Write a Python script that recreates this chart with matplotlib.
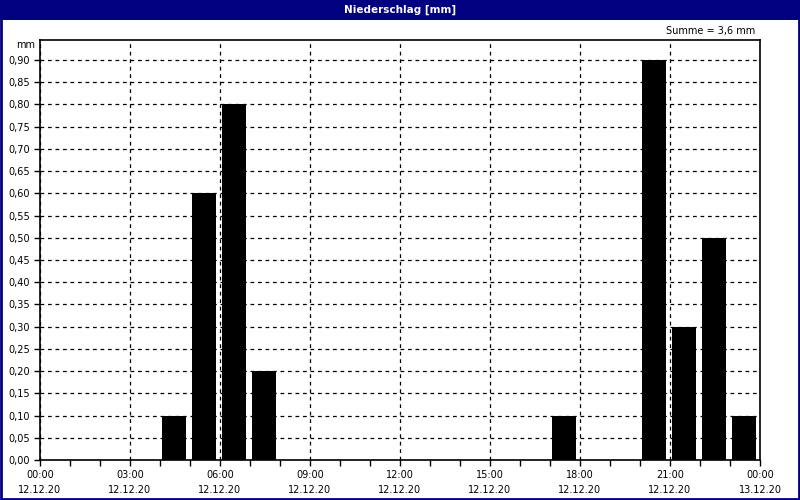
import matplotlib
matplotlib.use('Agg')
import matplotlib.pyplot as plt
import matplotlib.ticker as mtick
from matplotlib.patches import Rectangle

# hourly precipitation, 12.12.20 00:00 .. 13.12.20 00:00
hours = [4, 5, 6, 7, 17, 20, 21, 22, 23]
rain = [0.10, 0.60, 0.80, 0.20, 0.10, 0.90, 0.30, 0.50, 0.10]
tick_hours = [0, 3, 6, 9, 12, 15, 18, 21, 24]
tick_labels = ['00:00\n12.12.20', '03:00\n12.12.20', '06:00\n12.12.20', '09:00\n12.12.20',
               '12:00\n12.12.20', '15:00\n12.12.20', '18:00\n12.12.20', '21:00\n12.12.20',
               '00:00\n13.12.20']
title = 'Niederschlag [mm]'
navy = '#000080'

plt.rcParams['font.family'] = 'DejaVu Sans'
plt.rcParams['font.size'] = 7

fig = plt.figure(figsize=(8, 5), dpi=100)
fig.patch.set_facecolor('white')
W, H = 800.0, 500.0
ax = fig.add_axes([40 / W, 1 - 460 / H, 720 / W, 420 / H])

ax.bar([h + 0.067 for h in hours], rain, width=0.8, align='edge', color='black', zorder=3)

ax.set_xlim(0, 24)
ax.set_ylim(0, 0.945)
ax.set_xticks(tick_hours)
ax.set_xticklabels(tick_labels, linespacing=1.6)
ax.xaxis.set_minor_locator(mtick.MultipleLocator(1))
ax.set_yticks([i * 0.05 for i in range(19)])
ax.yaxis.set_major_formatter(mtick.FuncFormatter(lambda v, p: ('%.2f' % v).replace('.', ',')))
ax.tick_params(axis='both', which='both', direction='out', color='black', length=4, width=1)
ax.tick_params(axis='x', which='major', pad=3)
ax.tick_params(axis='y', pad=3)

ax.grid(True, which='major', color='black', linestyle=(0, (3, 3)), linewidth=0.9, zorder=1)
for s in ax.spines.values():
    s.set_color('black')
    s.set_linewidth(1.2)

# title bar and frame
fig.patches.append(Rectangle((0, 1 - 20 / H), 1, 20 / H, transform=fig.transFigure,
                             facecolor=navy, edgecolor='none', zorder=0))
fig.patches.append(Rectangle((0.001, 0.002), 0.998, 0.996, transform=fig.transFigure,
                             facecolor='none', edgecolor=navy, linewidth=2, zorder=5))
fig.text(0.5, 1 - 10 / H, title, color='white', fontweight='bold', ha='center', va='center', fontsize=7.5)
fig.text(755 / W, 1 - 31 / H, 'Summe = 3,6 mm', ha='right', va='center')
fig.text(35 / W, 1 - 45 / H, 'mm', ha='right', va='center')

plt.savefig('out.png', dpi=100)
plt.close()
